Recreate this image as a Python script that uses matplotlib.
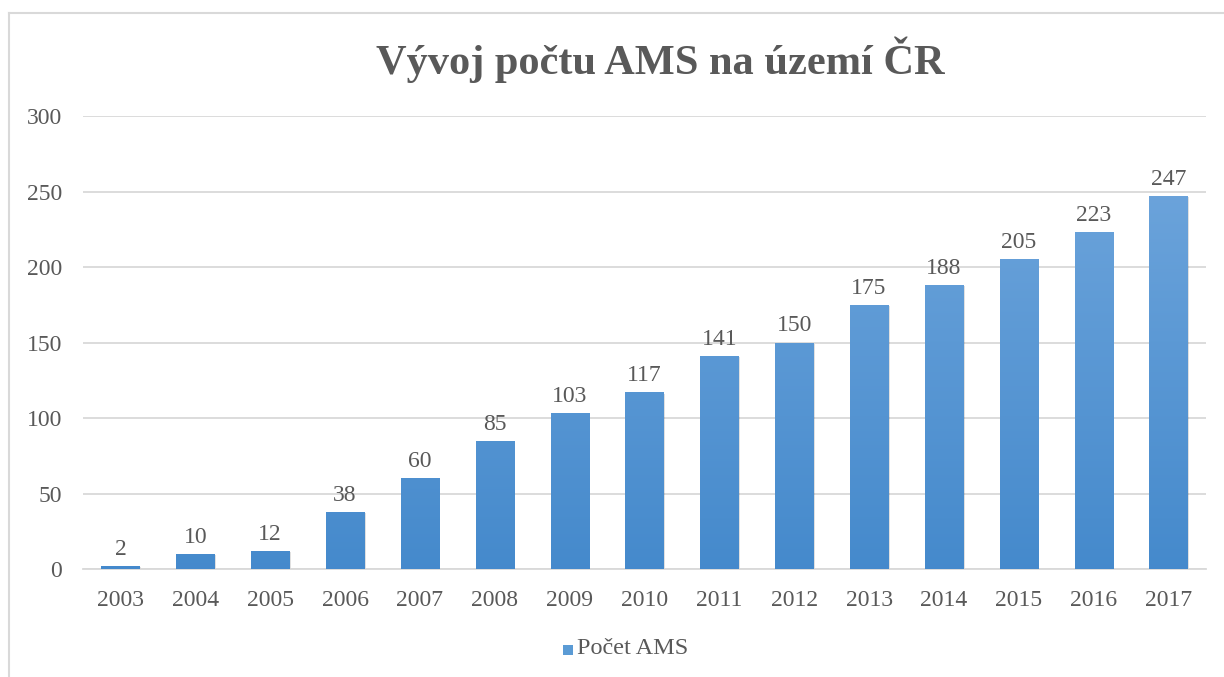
import matplotlib
matplotlib.use("Agg")
import matplotlib.pyplot as plt
import numpy as np
from matplotlib.lines import Line2D
from matplotlib.patches import Rectangle
from matplotlib.colors import LinearSegmentedColormap

years = ["2003", "2004", "2005", "2006", "2007", "2008", "2009", "2010",
         "2011", "2012", "2013", "2014", "2015", "2016", "2017"]
counts = [2, 10, 12, 38, 60, 85, 103, 117, 141, 150, 175, 188, 205, 223, 247]
title = "Vývoj počtu AMS na území ČR"
series_name = "Počet AMS"
yticks = [0, 50, 100, 150, 200, 250, 300]

plt.rcParams['font.family'] = ['Liberation Serif', 'DejaVu Serif']
txt = '#595959'

fig = plt.figure(figsize=(12.24, 6.77), dpi=100)
ax = fig.add_axes([83/1224, 1-569/677, (1206-83)/1224, (569-116)/677])

x = np.arange(len(years))
bars = ax.bar(x, counts, width=0.51, color='#5b9bd5', zorder=3)

cmap = LinearSegmentedColormap.from_list('g', [(0.27, 0.54, 0.80), (0.45, 0.66, 0.87)])
grad = np.linspace(0, 1, 256).reshape(-1, 1)
for b, v in zip(bars, counts):
    bx, bw, bh = b.get_x(), b.get_width(), b.get_height()
    sh = Rectangle((bx + 0.02, -0.8), bw, bh, facecolor='#000000', alpha=0.12,
                   edgecolor='none', zorder=2)
    ax.add_patch(sh)
    im = ax.imshow(grad, extent=(bx, bx + bw, 0, 300), origin='lower', cmap=cmap,
                   aspect='auto', zorder=4)
    im.set_clip_path(b)
    ax.text(bx + bw/2, bh + 4, str(v), ha='center', va='bottom', fontsize=17,
            color=txt, zorder=5)

ax.set_xlim(-0.5, len(years) - 0.5)
ax.set_ylim(0, 300)
ax.set_yticks(yticks)
ax.set_yticklabels([str(t) for t in yticks], fontsize=17, color=txt)
ax.set_xticks(x)
ax.set_xticklabels(years, fontsize=17, color=txt)
ax.tick_params(axis='both', length=0)
ax.tick_params(axis='y', pad=15)
ax.tick_params(axis='x', pad=15)
ax.grid(axis='y', color='#d9d9d9', linewidth=1.3, zorder=0)
ax.set_axisbelow(True)
for s in ['top', 'right', 'left']:
    ax.spines[s].set_visible(False)
ax.spines['bottom'].set_color('#d9d9d9')
ax.spines['bottom'].set_linewidth(1.3)

fig.text(660/1224, 1-60/677, title, ha='center', va='center', fontsize=30.5,
         fontweight='bold', color=txt)

# legend
fig.patches.append(Rectangle((563/1224, 1-655/677), 10/1224, 10/677,
                             transform=fig.transFigure, facecolor='#5b9bd5',
                             edgecolor='none', figure=fig))
fig.text(577/1224, 1-649/677, series_name, ha='left', va='center', fontsize=17.5, color=txt)

# chart frame
fig.add_artist(Line2D([9/1224, 9/1224], [0, 1-13/677], transform=fig.transFigure,
                      color='#d9d9d9', linewidth=1.5))
fig.add_artist(Line2D([9/1224, 1], [1-13/677, 1-13/677], transform=fig.transFigure,
                      color='#d9d9d9', linewidth=1.5))

fig.savefig('out.png', dpi=100)
